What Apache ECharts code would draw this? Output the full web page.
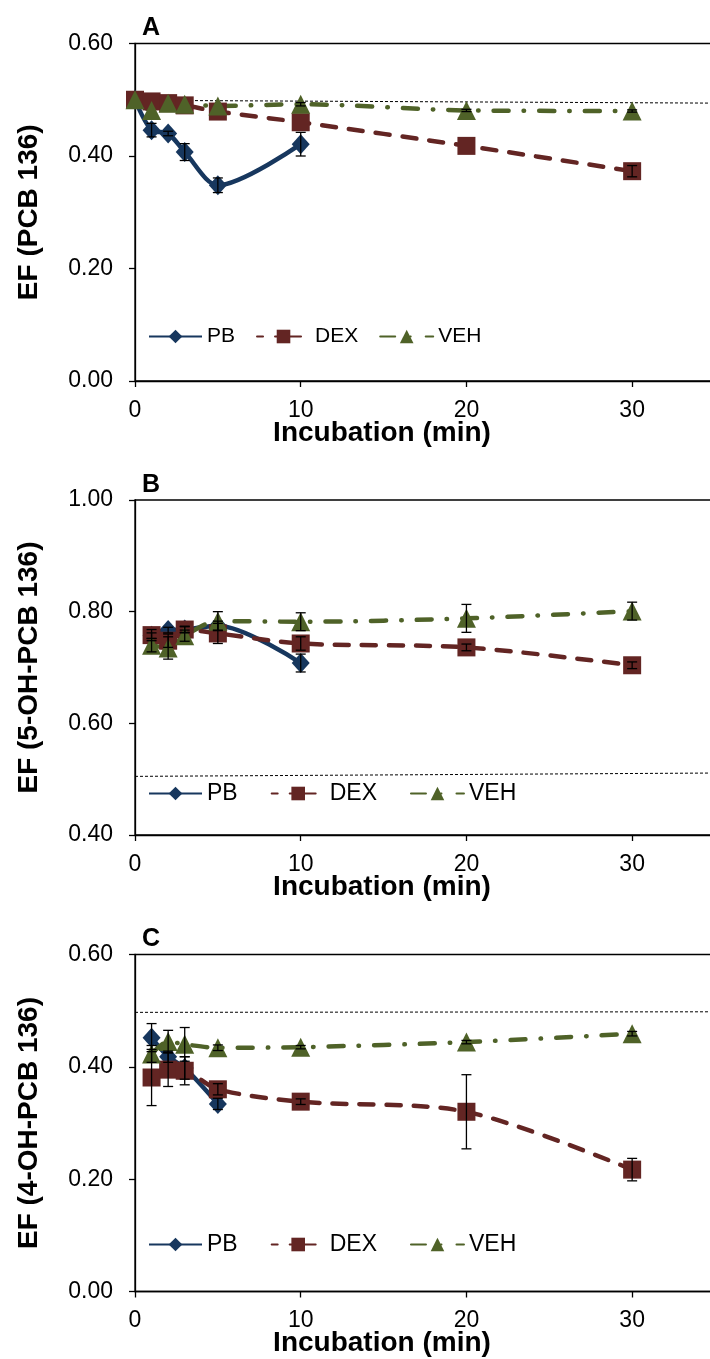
<!DOCTYPE html>
<html><head><meta charset="utf-8">
<script src="https://cdn.jsdelivr.net/npm/echarts@6/dist/echarts.min.js"></script>
<style>html,body{margin:0;padding:0;background:#fff}#c{width:710px;height:1359px}</style>
</head><body><div id="c"></div><script>
// ---------- data ----------
const seriesNames = ['PB', 'DEX', 'VEH'];
const xTicks = [0, 10, 20, 30];

// Panel A: EF (PCB 136)
const A_tPB = [0, 1, 2, 3, 5, 10];
const A_t = [0, 1, 2, 3, 5, 10, 20, 30];
const A_PB = [0.500, 0.446, 0.440, 0.407, 0.348, 0.421];
const A_PB_err = [0, 0.012, 0.004, 0.015, 0.013, 0.021];
const A_DEX = [0.500, 0.497, 0.494, 0.490, 0.479, 0.460, 0.418, 0.373];
const A_DEX_err = [0, 0, 0, 0, 0, 0, 0, 0.010];
const A_VEH = [0.500, 0.481, 0.494, 0.492, 0.489, 0.492, 0.481, 0.480];
const A_VEH_err = [0, 0, 0, 0, 0, 0.003, 0.002, 0.002];
const A_ref = [0.499, 0.494];

// Panel B: EF (5-OH-PCB 136)
const B_tPB = [1, 2, 3, 5, 10];
const B_t = [1, 2, 3, 5, 10, 20, 30];
const B_PB = [0.757, 0.767, 0.768, 0.775, 0.708];
const B_PB_err = [0.005, 0.005, 0.005, 0.008, 0.016];
const B_DEX = [0.758, 0.748, 0.768, 0.761, 0.743, 0.736, 0.704];
const B_DEX_err = [0.010, 0.012, 0.006, 0.018, 0.012, 0.006, 0.006];
const B_VEH = [0.740, 0.735, 0.757, 0.783, 0.782, 0.788, 0.801];
const B_VEH_err = [0.012, 0.020, 0.010, 0.017, 0.016, 0.025, 0.016];
const B_ref = [0.505, 0.511];

// Panel C: EF (4-OH-PCB 136)
const C_tPB = [1, 2, 3, 5];
const C_t = [1, 2, 3, 5, 10, 20, 30];
const C_PB = [0.452, 0.418, 0.398, 0.334];
const C_PB_err = [0.025, 0.010, 0.020, 0.010];
const C_DEX = [0.381, 0.395, 0.393, 0.360, 0.338, 0.320, 0.217];
const C_DEX_err = [0.050, 0.030, 0.025, 0.010, 0.005, 0.066, 0.020];
const C_VEH = [0.423, 0.445, 0.440, 0.434, 0.435, 0.444, 0.459];
const C_VEH_err = [0.015, 0.020, 0.030, 0.005, 0.003, 0.003, 0.004];
const C_ref = [0.497, 0.498];

// ---------- styles ----------
const COL = { PB: '#17375E', DEX: '#632523', VEH: '#4F6228' };
const FONT = '"Liberation Sans", Arial, sans-serif';
const panels = [
  { top: 43.5, height: 337.5, min: 0, max: 0.6, yName: 'EF (PCB 136)', letter: 'A',
    tPB: A_tPB, t: A_t, PB: A_PB, PBe: A_PB_err, DEX: A_DEX, DEXe: A_DEX_err, VEH: A_VEH, VEHe: A_VEH_err, ref: A_ref,
    legendTop: 326, legendGap: 21, legendFont: 21 },
  { top: 500, height: 335, min: 0.4, max: 1.0, yName: 'EF (5-OH-PCB 136)', letter: 'B',
    tPB: B_tPB, t: B_t, PB: B_PB, PBe: B_PB_err, DEX: B_DEX, DEXe: B_DEX_err, VEH: B_VEH, VEHe: B_VEH_err, ref: B_ref,
    legendTop: 782, legendGap: 33, legendFont: 23 },
  { top: 954.5, height: 337, min: 0, max: 0.6, yName: 'EF (4-OH-PCB 136)', letter: 'C',
    tPB: C_tPB, t: C_t, PB: C_PB, PBe: C_PB_err, DEX: C_DEX, DEXe: C_DEX_err, VEH: C_VEH, VEHe: C_VEH_err, ref: C_ref,
    legendTop: 1233, legendGap: 33, legendFont: 23 }
];

function errItem(params, api) {
  const x = api.value(0), y = api.value(1), e = api.value(2);
  if (!e) return null;
  const hi = api.coord([x, y + e]), lo = api.coord([x, y - e]);
  const w = 5, st = { stroke: '#000', lineWidth: 1.3 };
  return { type: 'group', children: [
    { type: 'line', shape: { x1: hi[0], y1: hi[1], x2: lo[0], y2: lo[1] }, style: st },
    { type: 'line', shape: { x1: hi[0] - w, y1: hi[1], x2: hi[0] + w, y2: hi[1] }, style: st },
    { type: 'line', shape: { x1: lo[0] - w, y1: lo[1], x2: lo[0] + w, y2: lo[1] }, style: st }
  ] };
}

const grid = [], xAxis = [], yAxis = [], series = [], legend = [], graphic = [];
panels.forEach((p, i) => {
  grid.push({ left: 135, width: 580, top: p.top, height: p.height, show: true,
    outerBoundsMode: 'none', containLabel: false,
    borderColor: '#000', borderWidth: 1.3, backgroundColor: 'transparent' });
  xAxis.push({ gridIndex: i, type: 'value', min: 0, max: 35, interval: 10,
    axisLine: { lineStyle: { color: '#000', width: 1.3 } },
    axisTick: { show: true, length: 6, lineStyle: { color: '#000', width: 1.3 } },
    splitLine: { show: false },
    axisLabel: { color: '#000', fontSize: 23, fontFamily: FONT, margin: 18,
      formatter: v => (xTicks.indexOf(v) >= 0 ? String(v) : '') } });
  yAxis.push({ gridIndex: i, type: 'value', min: p.min, max: p.max, interval: 0.2,
    name: p.yName, nameLocation: 'middle', nameGap: 92,
    nameTextStyle: { color: '#000', fontSize: 28, fontWeight: 'bold', fontFamily: FONT },
    axisLine: { show: true, lineStyle: { color: '#000', width: 1.3 } },
    axisTick: { show: true, length: 6, lineStyle: { color: '#000', width: 1.3 } },
    splitLine: { show: false },
    axisLabel: { color: '#000', fontSize: 23, fontFamily: FONT, margin: 22,
      formatter: v => v.toFixed(2) } });

  const base = { xAxisIndex: i, yAxisIndex: i, type: 'line', smooth: 0.3, animation: false };
  // reference line (EF = racemic)
  series.push({ xAxisIndex: i, yAxisIndex: i, type: 'line', name: 'ref' + i, symbol: 'none', silent: true,
    animation: false, z: 1,
    data: [[0, p.ref[0]], [35, p.ref[1]]],
    lineStyle: { color: '#000', width: 1, type: [3, 2] } });
  series.push(Object.assign({}, base, { name: 'PB', symbol: 'diamond', symbolSize: [18, 20],
    data: p.tPB.map((t, k) => [t, p.PB[k]]),
    itemStyle: { color: COL.PB }, lineStyle: { color: COL.PB, width: 4.5 } }));
  series.push(Object.assign({}, base, { name: 'DEX', symbol: 'rect', symbolSize: 18,
    data: p.t.map((t, k) => [t, p.DEX[k]]),
    itemStyle: { color: COL.DEX }, lineStyle: { color: COL.DEX, width: 4.5, type: [14, 13], cap: 'round' } }));
  series.push(Object.assign({}, base, { name: 'VEH', symbol: 'triangle', symbolSize: 19,
    data: p.t.map((t, k) => [t, p.VEH[k]]),
    itemStyle: { color: COL.VEH }, lineStyle: { color: COL.VEH, width: 4.5, type: [15, 15, 0.5, 15], cap: 'round' } }));
  [['PB', p.tPB, p.PB, p.PBe], ['DEX', p.t, p.DEX, p.DEXe], ['VEH', p.t, p.VEH, p.VEHe]].forEach(s => {
    series.push({ xAxisIndex: i, yAxisIndex: i, type: 'custom', name: 'err' + s[0] + i, silent: true,
      animation: false, z: 5, renderItem: errItem, encode: { x: 0, y: 1 },
      data: s[1].map((t, k) => [t, s[2][k], s[3][k]]) });
  });
  legend.push({ left: 148, top: p.legendTop, padding: 0, itemGap: p.legendGap,
    itemWidth: 53, itemHeight: 17, selectedMode: false,
    data: [
      { name: seriesNames[0] },
      { name: seriesNames[1], lineStyle: { type: [6, 12, 26, 30], cap: 'round' } },
      { name: seriesNames[2] }
    ],
    textStyle: { color: '#000', fontSize: p.legendFont, fontFamily: FONT } });
  graphic.push({ type: 'text', x: 151, y: p.top - 15,
    style: { text: p.letter, font: 'bold 25px ' + FONT, fill: '#000', align: 'center', verticalAlign: 'middle' } });
  graphic.push({ type: 'text', x: 382, y: p.top + p.height + 52,
    style: { text: 'Incubation (min)', font: 'bold 28px ' + FONT, fill: '#000',
      align: 'center', verticalAlign: 'middle' } });
});

const chart = echarts.init(document.getElementById('c'), null, { renderer: 'canvas' });
chart.setOption({ backgroundColor: '#fff', animation: false, grid, xAxis, yAxis, series, legend, graphic });
</script></body></html>
